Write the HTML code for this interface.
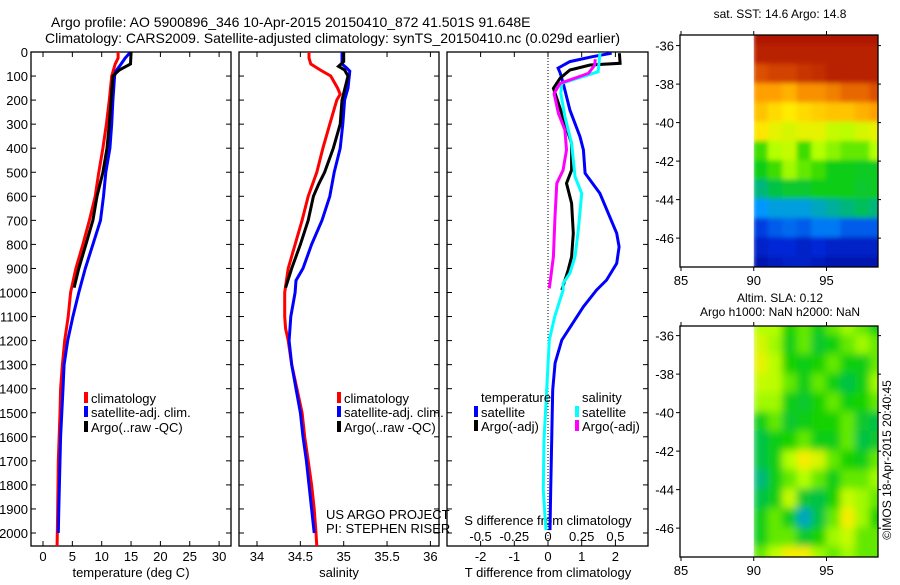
<!DOCTYPE html>
<html><head><meta charset="utf-8"><style>
body{margin:0;background:#fff;}
svg text{font-family:"Liberation Sans",sans-serif;fill:#000;}
</style></head><body>
<svg id="fig" width="900" height="580" viewBox="0 0 900 580" xmlns="http://www.w3.org/2000/svg">
<rect width="900" height="580" fill="#fff"/>
<text x="51" y="27" font-size="14">Argo profile: AO 5900896_346 10-Apr-2015 20150410_872 41.501S 91.648E</text>
<text x="45" y="43" font-size="14">Climatology: CARS2009. Satellite-adjusted climatology: synTS_20150410.nc (0.029d earlier)</text>
<g id="g"></g>
</svg>
<script>
// ---- depth axis
const depthTicks=[0,100,200,300,400,500,600,700,800,900,1000,1100,1200,1300,1400,1500,1600,1700,1800,1900,2000];
// ---- temperature panel data
const tempTicks=[0,5,10,15,20,25,30];
const tClimD=[0,25,50,100,200,300,400,500,600,700,800,900,1000,1100,1200,1300,1400,1500,1700,1900,2055];
const tClimV=[12.8,12.8,12.3,11.7,11.3,10.8,10.2,9.5,8.9,7.9,6.8,5.6,4.7,4.3,3.7,3.3,3.0,2.9,2.6,2.5,2.4];
const tSatD=[0,25,50,80,100,200,300,400,500,600,700,800,900,1000,1100,1200,1300,1400,1500,1600,1700,1800,1900,2000];
const tSatV=[14.9,14.0,13.3,12.4,12.2,11.9,11.7,11.4,10.7,10.3,9.8,8.5,7.2,6.1,5.1,4.2,3.6,3.4,3.2,3.0,2.9,2.8,2.7,2.6];
const tArgoD=[0,50,75,100,200,300,400,500,600,700,800,900,980];
const tArgoV=[15.0,14.9,13.0,11.9,11.6,11.3,10.9,10.2,9.2,8.5,7.3,6.1,5.3];
// ---- salinity panel data
const salTicks=[34,34.5,35,35.5,36];
const sClimD=[0,25,50,75,100,150,175,200,250,300,400,500,600,700,800,900,1000,1100,1150,1200,1300,1400,1500,1600,1700,1800,1900,2000,2055];
const sClimV=[34.60,34.60,34.62,34.73,34.85,34.93,34.96,34.92,34.88,34.84,34.76,34.69,34.59,34.52,34.44,34.36,34.32,34.32,34.33,34.36,34.40,34.46,34.52,34.55,34.59,34.63,34.66,34.68,34.69];
const sSatD=[0,50,65,80,150,200,300,400,500,600,700,800,900,950,1000,1100,1200,1300,1400,1500,1600,1700,1800,1900,2000];
const sSatV=[34.98,34.98,35.03,35.07,35.05,35.01,34.99,34.96,34.89,34.84,34.75,34.63,34.53,34.45,34.44,34.39,34.37,34.40,34.45,34.50,34.53,34.57,34.60,34.63,34.66];
const sArgoD=[0,40,60,75,100,200,300,400,500,550,600,700,800,900,980];
const sArgoV=[35.00,35.00,34.94,35.01,35.05,34.98,34.96,34.88,34.78,34.71,34.65,34.59,34.50,34.40,34.33];
// ---- difference panel data
const dTTicks=[-2,-1,0,1,2];
const dSTicks=[-0.5,-0.25,0,0.25,0.5];
const dSTickLabels=["-0.5","-0.25","0","0.25","0.5"];
const dTSatD=[5,20,40,67,86,130,241,352,407,504,588,754,810,879,948,990,1059,1198,1293,1405,1613,1821,1988];
const dTSatV=[1.89,1.3,0.65,0.30,0.36,0.45,0.65,0.95,1.05,1.10,1.54,2.04,2.11,2.04,1.74,1.44,1.05,0.41,0.21,0.14,0.11,0.08,0.06];
const dTArgoD=[5,47,54,75,109,151,213,296,380,491,546,629,754,851,906,990];
const dTArgoV=[2.12,2.14,1.25,0.65,0.36,0.16,0.31,0.50,0.70,0.70,0.55,0.70,0.75,0.70,0.60,0.41];
const dSSatD=[5,82,130,172,269,380,518,588,740,851,920,962,990,1100,1198,1405,1613,1821,1932,1988];
const dSSatV=[0.386,0.372,0.102,0.095,0.125,0.175,0.20,0.25,0.225,0.20,0.162,0.112,0.112,0.05,0.01,-0.01,-0.03,-0.035,-0.022,-0.015];
const dSArgoD=[30,54,89,130,172,255,324,407,491,546,685,851,983];
const dSArgoV=[0.35,0.347,0.30,0.09,0.045,0.077,0.125,0.137,0.112,0.065,0.052,0.04,0.01];
// ---- maps
const mapLonTicks=[85,90,95];
const mapLatTicks=[-36,-38,-40,-42,-44,-46];
const gridLons=[90,91,92,93,94,95,96,97,98];
const gridLats=[-35.5,-36.5,-37.5,-38.5,-39.5,-40.5,-41.5,-42.5,-43.5,-44.5,-45.5,-46.5,-47.5];
const sstGrid=[
[0.97,0.97,0.97,0.97,0.97,0.97,0.97,0.97,0.97],
[0.95,0.95,0.95,0.95,0.95,0.95,0.95,0.95,0.95],
[0.88,0.90,0.90,0.92,0.93,0.95,0.95,0.95,0.95],
[0.78,0.78,0.75,0.80,0.80,0.82,0.85,0.85,0.88],
[0.72,0.68,0.65,0.68,0.70,0.72,0.72,0.75,0.78],
[0.66,0.62,0.60,0.62,0.62,0.58,0.57,0.60,0.62],
[0.50,0.56,0.58,0.50,0.56,0.54,0.52,0.52,0.56],
[0.46,0.50,0.55,0.52,0.50,0.46,0.46,0.45,0.45],
[0.38,0.42,0.44,0.44,0.46,0.46,0.46,0.44,0.45],
[0.30,0.32,0.32,0.32,0.34,0.36,0.38,0.40,0.38],
[0.18,0.22,0.24,0.22,0.26,0.26,0.22,0.22,0.22],
[0.12,0.15,0.15,0.12,0.15,0.12,0.12,0.12,0.12],
[0.08,0.10,0.12,0.12,0.10,0.08,0.08,0.08,0.08]];
const slaGrid=[
[0.56,0.56,0.48,0.52,0.46,0.52,0.55,0.52,0.46],
[0.60,0.55,0.46,0.52,0.44,0.47,0.52,0.55,0.52],
[0.62,0.57,0.48,0.46,0.48,0.52,0.47,0.46,0.52],
[0.58,0.57,0.52,0.46,0.52,0.47,0.42,0.46,0.55],
[0.55,0.55,0.46,0.44,0.48,0.52,0.47,0.48,0.52],
[0.46,0.52,0.44,0.46,0.48,0.48,0.52,0.44,0.42],
[0.42,0.46,0.48,0.52,0.46,0.46,0.52,0.42,0.44],
[0.42,0.46,0.56,0.64,0.60,0.52,0.48,0.46,0.52],
[0.38,0.46,0.52,0.56,0.52,0.46,0.52,0.52,0.55],
[0.42,0.46,0.58,0.44,0.42,0.48,0.58,0.55,0.52],
[0.46,0.52,0.46,0.34,0.42,0.52,0.64,0.55,0.48],
[0.46,0.52,0.52,0.44,0.48,0.55,0.58,0.52,0.52],
[0.52,0.57,0.64,0.64,0.55,0.52,0.55,0.52,0.52]];

const NS="http://www.w3.org/2000/svg";
const G=document.getElementById('g');
function mk(tag,attrs,parent){const e=document.createElementNS(NS,tag);for(const k in attrs)e.setAttribute(k,attrs[k]);(parent||G).appendChild(e);return e;}
function txt(s,x,y,anchor,size,name){const t=mk('text',{x:x,y:y,'text-anchor':anchor,'font-size':size});t.textContent=s;


return t;}
const Y0=52,Y1=546;
function yD(d){return 52+d*0.2405;}

function panel(L,R,name){
  const r=mk('rect',{x:L,y:Y0,width:R-L,height:Y1-Y0,fill:'none',stroke:'#000','stroke-width':1.3});
  
  
  depthTicks.forEach(d=>{const y=yD(d);
    const a=mk('line',{x1:L,x2:L+5,y1:y,y2:y,stroke:'#000'});
    
    
    const b=mk('line',{x1:R,x2:R-5,y1:y,y2:y,stroke:'#000'});
    
    });
}
function xticks(L,R,ticks,fx,labels,ly,name){
  ticks.forEach((v,i)=>{const x=fx(v);
    const a=mk('line',{x1:x,x2:x,y1:Y1,y2:Y1-5,stroke:'#000'});
    
    
    const b=mk('line',{x1:x,x2:x,y1:Y0,y2:Y0+5,stroke:'#000'});
    
    
    if(labels)txt(labels[i],x,ly,'middle',13,name+'-tick-label');});
}
function line(D,V,fx,color,name,clipId){
  const pts=D.map((d,i)=>fx(V[i]).toFixed(1)+','+yD(d).toFixed(1)).join(' ');
  const p=mk('polyline',{points:pts,fill:'none',stroke:color,'stroke-width':3,'stroke-linejoin':'miter'});
  if(clipId)p.setAttribute('clip-path','url(#'+clipId+')');
  
  
}
function legend(x,y,color,label,name){
  const r=mk('rect',{x:x,y:y-11,width:4,height:11,fill:color});
  
  
  txt(label,x+7,y,'start',13,name);
}
const defs=mk('defs',{});
function clip(id,x,y,w,h){const c=mk('clipPath',{id:id},defs);mk('rect',{x:x,y:y,width:w,height:h},c);}

depthTicks.forEach(d=>txt(String(d),28,yD(d)+5,'end',13,'depth-tick-label'));

// ---- Panel 1 temperature
const fT=v=>43+v*5.87;
clip('c1',31,Y0,200,Y1-Y0);
panel(31,231,'temperature-panel');
xticks(31,231,tempTicks,fT,tempTicks.map(String),561,'temperature-x');
txt('temperature (deg C)',131,577,'middle',13,'temperature-x-title');
line(tClimD,tClimV,fT,'#ff0000','temperature-climatology-line','c1');
line(tSatD,tSatV,fT,'#0000ff','temperature-satellite-line','c1');
line(tArgoD,tArgoV,fT,'#000000','temperature-argo-line','c1');
legend(84,403,'#ff0000','climatology','temp-legend-climatology');
legend(84,417,'#0000ff','satellite-adj. clim.','temp-legend-satellite');
legend(84,432,'#000000','Argo(..raw -QC)','temp-legend-argo');

// ---- Panel 2 salinity
const fS=v=>257+(v-34)*86.7;
clip('c2',239,Y0,200,Y1-Y0);
panel(239,439,'salinity-panel');
xticks(239,439,salTicks,fS,salTicks.map(String),561,'salinity-x');
txt('salinity',339,577,'middle',13,'salinity-x-title');
line(sClimD,sClimV,fS,'#ff0000','salinity-climatology-line','c2');
line(sSatD,sSatV,fS,'#0000ff','salinity-satellite-line','c2');
line(sArgoD,sArgoV,fS,'#000000','salinity-argo-line','c2');
legend(337,403,'#ff0000','climatology','sal-legend-climatology');
legend(337,417,'#0000ff','satellite-adj. clim.','sal-legend-satellite');
legend(337,432,'#000000','Argo(..raw -QC)','sal-legend-argo');
txt('US ARGO PROJECT',326,519,'start',13,'project-credit');
txt('PI: STEPHEN RISER',326,533,'start',13,'pi-credit');

// ---- Panel 3 differences
const fDT=v=>548+v*33.7;
const fDS=v=>548+v*4*33.7;
clip('c3',447,Y0,201,Y1-Y0);
panel(447,648,'difference-panel');
const z=mk('line',{x1:548,x2:548,y1:Y0,y2:Y1,stroke:'#000','stroke-dasharray':'1,2'});


xticks(447,648,dTTicks,fDT,dTTicks.map(String),561,'t-diff-x');
dSTicks.forEach((v,i)=>txt(dSTickLabels[i],fDS(v),541,'middle',13,'s-diff-tick-label'));
txt('S difference from climatology',548,525,'middle',13,'s-diff-title');
txt('T difference from climatology',548,577,'middle',13,'t-diff-title');
line(dTSatD,dTSatV,fDT,'#0000ff','t-diff-satellite-line','c3');
line(dTArgoD,dTArgoV,fDT,'#000000','t-diff-argo-line','c3');
line(dSSatD,dSSatV,fDS,'#00ffff','s-diff-satellite-line','c3');
line(dSArgoD,dSArgoV,fDS,'#ff00ff','s-diff-argo-line','c3');
txt('temperature',481,402,'start',13,'legend-temperature-heading');
txt('salinity',582,402,'start',13,'legend-salinity-heading');
legend(474,417,'#0000ff','satellite','diff-legend-t-satellite');
legend(474,431,'#000000','Argo(-adj)','diff-legend-t-argo');
legend(575,417,'#00ffff','satellite','diff-legend-s-satellite');
legend(575,431,'#ff00ff','Argo(-adj)','diff-legend-s-argo');

// ---- maps
const cmapStops=[0,0.15,0.30,0.40,0.48,0.56,0.65,0.78,0.88,1];
const cmapCols=[[0,0,130],[0,40,215],[0,150,255],[0,190,90],[20,210,0],[180,255,0],[255,235,0],[255,160,0],[220,80,0],[160,0,0]];
function cmap(v){v=Math.max(0,Math.min(1,v));
  let i=0;while(i<cmapStops.length-2&&v>cmapStops[i+1])i++;
  const t=(v-cmapStops[i])/(cmapStops[i+1]-cmapStops[i]);
  const a=cmapCols[i],b=cmapCols[i+1];
  return 'rgb('+a.map((c,k)=>Math.round(c+(b[k]-c)*t)).join(',')+')';}
const blurF=mk('filter',{id:'blur',x:'-10%',y:'-10%',width:'120%',height:'120%'},defs);
mk('feGaussianBlur',{stdDeviation:4},blurF);
const blurS=mk('filter',{id:'blurS',x:'-10%',y:'-10%',width:'120%',height:'120%'},defs);
mk('feGaussianBlur',{stdDeviation:2.5},blurS);
function map(top,bot,latTop,grid,name,filt){
  const L=680,R=878;
  const fx=lon=>681+(lon-85)*14.55;
  const pxPerDeg=(bot-top)/(latTop+47.5);
  const yy=lat=>top+(latTop-lat)*pxPerDeg;
  const cid='clip-'+name;
  clip(cid,fx(90),top,R-fx(90),bot-top);
  const outer=mk('g',{'clip-path':'url(#'+cid+')'});
  
  
  const gg=mk('g',{filter:'url(#'+filt+')'},outer);
  grid.forEach((row,i)=>row.forEach((v,j)=>{
    const c=mk('rect',{x:fx(gridLons[j]-0.05),y:yy(gridLats[i]+0.55),width:14.55*1.1+1,height:pxPerDeg*1.1+1,fill:cmap(v)},gg);
    
    
  }));
  const fr=mk('rect',{x:L,y:top,width:R-L,height:bot-top,fill:'none',stroke:'#000','stroke-width':1.3});
  
  
  mapLonTicks.forEach(v=>{const x=fx(v);
    const a=mk('line',{x1:x,x2:x,y1:bot,y2:bot+4,stroke:'#000'});
    
    
    const b=mk('line',{x1:x,x2:x,y1:top,y2:top-4,stroke:'#000'});
    
    
    txt(String(v),x,bot+18,'middle',13,'lon-tick-label');});
  mapLatTicks.forEach(v=>{const y=yy(v);
    const a=mk('line',{x1:L,x2:L-4,y1:y,y2:y,stroke:'#000'});
    
    
    const b=mk('line',{x1:R,x2:R+3,y1:y,y2:y,stroke:'#000'});
    
    
    txt(String(v),L-6,y+5,'end',13,'lat-tick-label');});
}
map(35,267,-35.45,sstGrid,'sst-map','blurS');
map(326,557,-35.5,slaGrid,'sla-map','blur');
txt('sat. SST: 14.6 Argo: 14.8',780,18,'middle',12,'sst-map-title');
txt('Altim. SLA: 0.12',780,302,'middle',12,'sla-map-title-1');
txt('Argo h1000: NaN h2000: NaN',780,316,'middle',12,'sla-map-title-2');
const cp=txt('©IMOS 18-Apr-2015 20:40:45',0,0,'middle',12,'imos-credit');
cp.setAttribute('transform','translate(891,460) rotate(-90)');
</script>
</body></html>
